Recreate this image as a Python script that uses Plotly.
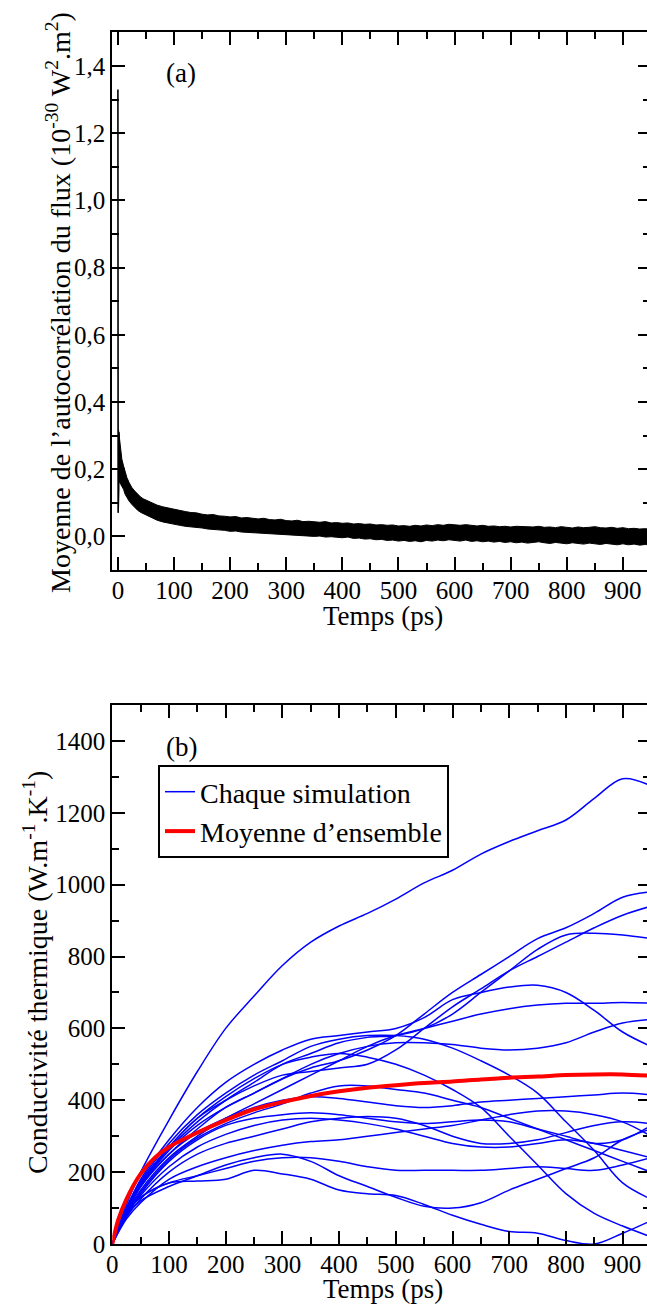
import plotly.graph_objects as go

# ---------------- Panel (a): heat-flux autocorrelation ----------------
# initial fast oscillation right after t = 0
spike_t = [0.0, 0.4, 0.9, 1.4, 2.0]
spike_v = [1.33, 0.07, 1.30, 0.14, 0.31]

# upper / lower envelope of the noisy decay (ps, 10^-30 W^2.m^2)
env_t = [1, 2, 3, 5, 7, 10, 13, 16, 20, 25, 30, 35, 40, 45, 50, 60, 70, 80, 90,
         100, 110, 120, 130, 140, 150, 160, 170, 180, 190, 200, 210, 220, 230, 240,
         250, 260, 270, 280, 290, 300, 310, 320, 330, 340, 350, 360, 370, 380, 390,
         400, 410, 420, 430, 440, 450, 460, 470, 480, 490, 500, 510, 520, 530, 540,
         550, 560, 570, 580, 590, 600, 610, 620, 630, 640, 650, 660, 670, 680, 690,
         700, 710, 720, 730, 740, 750, 760, 770, 780, 790, 800, 810, 820, 830, 840,
         850, 860, 870, 880, 890, 900, 910, 920, 930, 940, 950]
env_hi = [.318, .300, .280, .260, .230, .210, .190, .175, .160, .145, .135, .125, .118, .112, .108, .100, .093, .088, .084,
          .080, .076, .074, .071, .070, .066, .064, .065, .061, .060, .058, .059, .055, .056, .053,
          .052, .054, .050, .049, .051, .047, .046, .048, .044, .045, .043, .042, .044, .040, .041,
          .039, .040, .037, .038, .036, .037, .034, .035, .033, .034, .031, .032, .030, .033, .031,
          .034, .032, .035, .033, .036, .034, .033, .035, .032, .031, .033, .030, .031, .029, .030,
          .028, .030, .029, .027, .028, .030, .027, .028, .026, .029, .027, .025, .028, .026, .027,
          .029, .026, .025, .027, .024, .026, .023, .024, .022, .023, .021]
env_lo = [.200, .170, .160, .155, .150, .140, .125, .115, .105, .095, .085, .078, .072, .068, .064, .055, .048, .043, .039,
          .035, .033, .030, .029, .026, .025, .022, .021, .019, .018, .015, .016, .013, .012, .010,
          .011, .009, .007, .008, .005, .004, .005, .002, .003, .001, .000, .001, -.002, -.001, -.003,
          -.004, -.002, -.006, -.005, -.008, -.007, -.010, -.009, -.012, -.011, -.014, -.012, -.015, -.013, -.016,
          -.012, -.014, -.011, -.013, -.010, -.012, -.014, -.011, -.015, -.013, -.016, -.014, -.017, -.015, -.018,
          -.016, -.019, -.017, -.020, -.018, -.016, -.019, -.021, -.018, -.020, -.022, -.019, -.021, -.023, -.020,
          -.022, -.024, -.021, -.023, -.025, -.022, -.025, -.023, -.026, -.024, -.027]

acf_ticks = [0.0, 0.2, 0.4, 0.6, 0.8, 1.0, 1.2, 1.4]
acf_labels = ["0,0", "0,2", "0,4", "0,6", "0,8", "1,0", "1,2", "1,4"]
acf_minor = [0.1, 0.3, 0.5, 0.7, 0.9, 1.1, 1.3]

# ---------------- Panel (b): thermal conductivity ----------------
t_grid = [0, 25, 50, 100, 150, 200, 250, 300, 350, 400, 450, 500, 550, 600, 650, 700, 750, 800, 850, 900, 950]

runs = [
    [0, 110, 200, 345, 480, 600, 690, 775, 840, 885, 920, 960, 1005, 1040, 1085, 1120, 1150, 1180, 1240, 1295, 1275],
    [0, 90, 160, 250, 320, 380, 420, 460, 490, 510, 540, 580, 640, 700, 750, 800, 850, 880, 920, 965, 980],
    [0, 100, 170, 270, 350, 400, 440, 470, 480, 490, 500, 540, 600, 660, 710, 760, 800, 840, 880, 915, 940],
    [0, 95, 165, 265, 340, 400, 450, 500, 530, 560, 575, 580, 600, 640, 700, 760, 820, 860, 865, 860, 850],
    [0, 100, 180, 290, 380, 450, 500, 540, 570, 580, 590, 600, 630, 680, 700, 715, 720, 700, 650, 590, 550],
    [0, 85, 150, 240, 300, 350, 390, 430, 470, 510, 550, 580, 600, 620, 640, 655, 665, 670, 670, 672, 670],
    [0, 90, 160, 260, 330, 380, 420, 460, 500, 530, 550, 560, 560, 555, 545, 540, 545, 560, 590, 615, 625],
    [0, 100, 175, 280, 360, 420, 470, 510, 550, 570, 580, 580, 570, 545, 510, 470, 420, 340, 260, 170, 125],
    [0, 95, 170, 270, 350, 410, 460, 500, 520, 530, 520, 500, 470, 430, 380, 300, 220, 140, 85, 50, 20],
    [0, 90, 130, 170, 175, 180, 205, 195, 180, 150, 140, 135, 110, 80, 55, 35, 30, 10, 0, 30, 65],
    [0, 85, 130, 170, 190, 210, 230, 240, 240, 230, 215, 205, 205, 205, 205, 210, 215, 210, 205, 220, 240],
    [0, 80, 120, 160, 190, 220, 240, 250, 230, 190, 160, 130, 105, 100, 115, 150, 180, 210, 240, 290, 320],
    [0, 90, 160, 250, 310, 350, 380, 400, 410, 405, 395, 385, 380, 385, 395, 400, 405, 410, 415, 420, 415],
    [0, 80, 140, 230, 290, 330, 350, 360, 365, 360, 350, 340, 335, 340, 345, 340, 320, 300, 280, 290, 330],
    [0, 75, 125, 200, 250, 280, 300, 320, 340, 350, 355, 350, 330, 300, 280, 280, 290, 310, 330, 340, 335],
    [0, 70, 115, 180, 215, 240, 260, 275, 285, 290, 300, 310, 320, 330, 345, 360, 370, 370, 360, 340, 300],
    [0, 85, 145, 235, 295, 335, 365, 390, 420, 440, 440, 430, 420, 400, 380, 350, 320, 290, 260, 230, 200],
    [0, 80, 135, 215, 270, 305, 330, 345, 350, 345, 335, 320, 300, 280, 270, 270, 280, 290, 280, 260, 240],
]

mean_t = [0, 10, 25, 50, 75, 100, 150, 200, 250, 300, 350, 400, 450, 500, 550, 600, 650, 700, 750, 800, 850, 900, 950]
mean_k = [0, 65, 125, 195, 240, 270, 310, 345, 375, 395, 412, 425, 435, 442, 448, 452, 458, 463, 466, 470, 472, 472, 468]

W, H = 647, 1307
FONT = "Liberation Serif, Times New Roman, serif"
BLUE, RED = "#0000ff", "#ff0000"

fig = go.Figure()

# panel (a)
fig.add_trace(go.Scatter(x=env_t, y=env_hi, mode="lines", line=dict(color="black", width=1),
                         xaxis="x", yaxis="y", showlegend=False, hoverinfo="skip"))
fig.add_trace(go.Scatter(x=env_t, y=env_lo, mode="lines", line=dict(color="black", width=1),
                         fill="tonexty", fillcolor="black",
                         xaxis="x", yaxis="y", showlegend=False, hoverinfo="skip"))
fig.add_trace(go.Scatter(x=spike_t, y=spike_v, mode="lines", line=dict(color="black", width=1.6),
                         xaxis="x", yaxis="y", showlegend=False, hoverinfo="skip"))

# panel (b)
for i, k in enumerate(runs):
    fig.add_trace(go.Scatter(x=t_grid, y=k, mode="lines",
                             line=dict(color=BLUE, width=1.5, shape="spline", smoothing=1.0),
                             name="Chaque simulation", legendgroup="runs", showlegend=(i == 0),
                             xaxis="x2", yaxis="y2", hoverinfo="skip"))
fig.add_trace(go.Scatter(x=mean_t, y=mean_k, mode="lines",
                         line=dict(color=RED, width=4, shape="spline", smoothing=0.8),
                         name="Moyenne d’ensemble", xaxis="x2", yaxis="y2", hoverinfo="skip"))

# invisible anchors so the right-hand tick axes get drawn
fig.add_trace(go.Scatter(x=[0], y=[0], mode="markers", marker=dict(opacity=0), xaxis="x", yaxis="y3",
                         showlegend=False, hoverinfo="skip"))
fig.add_trace(go.Scatter(x=[0], y=[0], mode="markers", marker=dict(opacity=0), xaxis="x2", yaxis="y4",
                         showlegend=False, hoverinfo="skip"))

x_dom = [112.3 / W, 1.0]
dom_a = [1 - 570 / H, 1 - 32.3 / H]
dom_b = [1 - 1244 / H, 1 - 705 / H]

tickfont = dict(family=FONT, size=25, color="black")
common_x = dict(showline=True, linewidth=2, linecolor="black", mirror="ticks", automargin=False,
                ticks="inside", ticklen=13, tickwidth=2, tickcolor="black", ticklabelstandoff=-3,
                tick0=0, dtick=100, showgrid=False, zeroline=False, tickfont=tickfont,
                minor=dict(ticks="inside", ticklen=7, tickwidth=2, tickcolor="black", dtick=50, showgrid=False))
common_y = dict(showline=True, linewidth=2, linecolor="black", mirror=False, automargin=False,
                ticks="inside", ticklen=13, tickwidth=2, tickcolor="black",
                showgrid=False, zeroline=False, tickfont=tickfont)
right_y = dict(side="right", showline=False, ticks="inside", ticklen=9, tickwidth=2, tickcolor="black",
               showticklabels=False, showgrid=False, zeroline=False, automargin=False)

fig.update_layout(
    width=W, height=H, margin=dict(l=0, r=0, t=0, b=0, autoexpand=False),
    paper_bgcolor="white", plot_bgcolor="white",
    font=dict(family=FONT, size=25, color="black"),
    xaxis=dict(domain=x_dom, anchor="y", range=[-10, 943], **common_x),
    yaxis=dict(domain=dom_a, anchor="x", range=[-0.1, 1.5], tickvals=acf_ticks, ticktext=acf_labels,
               minor=dict(ticks="inside", ticklen=7, tickwidth=2, tickcolor="black", tickvals=acf_minor, showgrid=False),
               **common_y),
    yaxis3=dict(overlaying="y", anchor="x", range=[-0.1, 1.5], tickvals=acf_ticks,
                minor=dict(ticks="inside", ticklen=4, tickwidth=2, tickcolor="black", tickvals=acf_minor, showgrid=False),
                **right_y),
    xaxis2=dict(domain=x_dom, anchor="y2", range=[0, 943], **common_x),
    yaxis2=dict(domain=dom_b, anchor="x2", range=[0, 1500], tick0=0, dtick=200,
                minor=dict(ticks="inside", ticklen=7, tickwidth=2, tickcolor="black", dtick=100, showgrid=False),
                **common_y),
    yaxis4=dict(overlaying="y2", anchor="x2", range=[0, 1500], tick0=0, dtick=200,
                minor=dict(ticks="inside", ticklen=4, tickwidth=2, tickcolor="black", dtick=100, showgrid=False),
                **right_y),
    legend=dict(x=158 / W, y=1 - 765 / H, xanchor="left", yanchor="top",
                bordercolor="black", borderwidth=2, bgcolor="white",
                font=dict(family=FONT, size=28, color="black"), itemwidth=30, tracegroupgap=0),
    showlegend=True,
)

ann_font = dict(family=FONT, size=27, color="black")
title_font = dict(family=FONT, size=28, color="black")


def label(text, px, py, angle=0, font=ann_font):
    fig.add_annotation(text=text, x=px / W, y=1 - py / H, xref="paper", yref="paper",
                       xanchor="center", yanchor="middle", textangle=angle,
                       showarrow=False, font=font)


label("(a)", 181, 73)
label("(b)", 181, 747)
label("Temps (ps)", 383, 616)
label("Temps (ps)", 383, 1289)
label("Moyenne de l’autocorrélation du flux (10<sup>-30</sup> W<sup>2</sup>.m<sup>2</sup>)", 58, 303, -90, title_font)
label("Conductivité thermique (W.m<sup>-1</sup>.K<sup>-1</sup>)", 35, 973, -90, title_font)

fig.write_html("out.html")
